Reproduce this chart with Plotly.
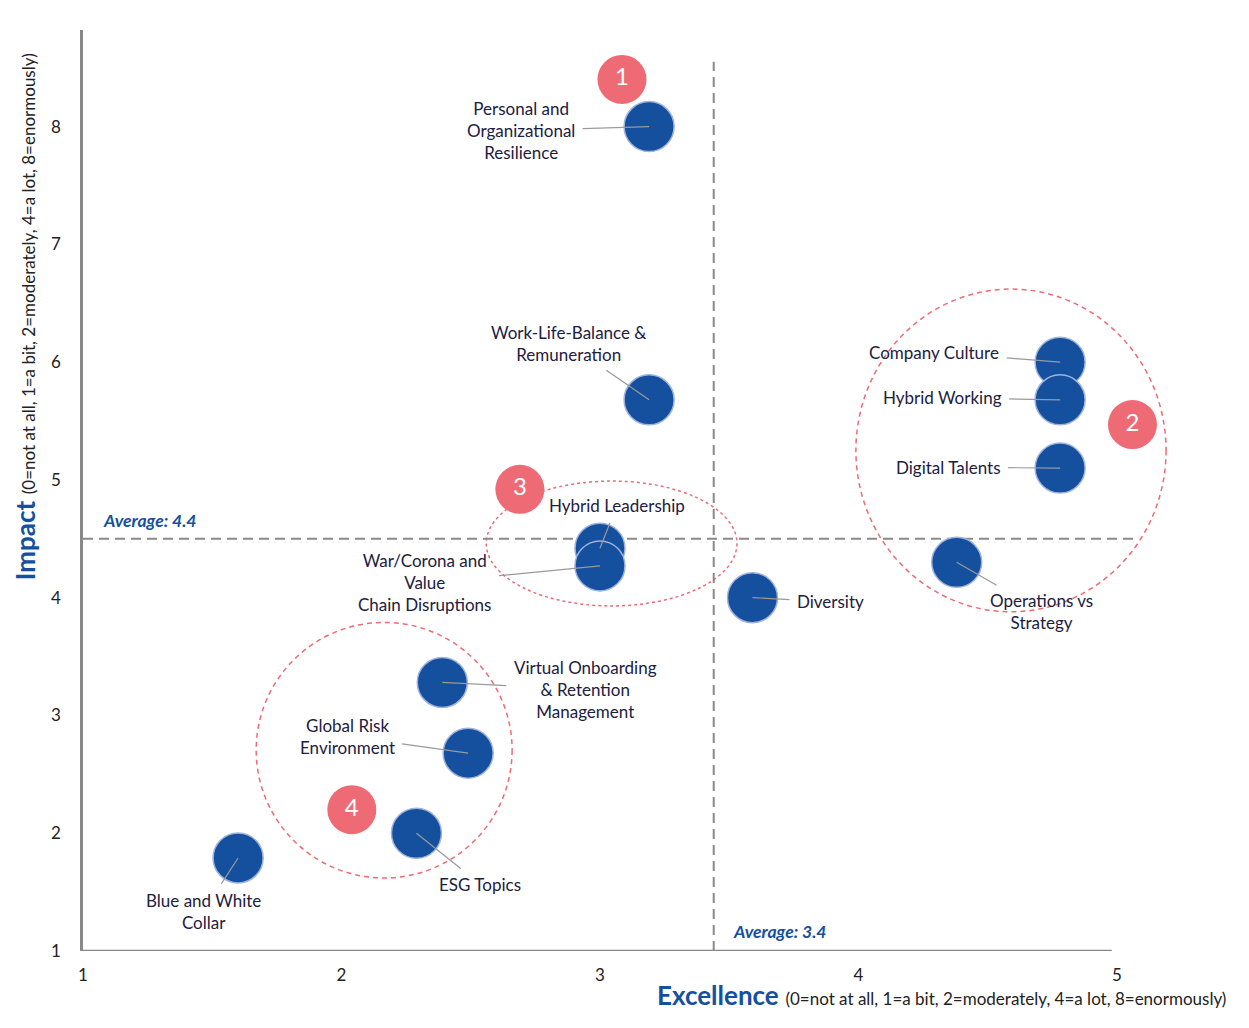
import plotly.graph_objects as go

# ---------------- data ----------------
topics = [
    "Personal and<br>Organizational<br>Resilience",
    "Work-Life-Balance &<br>Remuneration",
    "Hybrid Leadership",
    "War/Corona and<br>Value<br>Chain Disruptions",
    "Diversity",
    "Company Culture",
    "Hybrid Working",
    "Digital Talents",
    "Operations vs<br>Strategy",
    "Virtual Onboarding<br>& Retention<br>Management",
    "Global Risk<br>Environment",
    "ESG Topics",
    "Blue and White<br>Collar",
]
excellence = [3.19, 3.19, 3.0, 3.0, 3.59, 4.78, 4.78, 4.78, 4.38, 2.39, 2.49, 2.29, 1.6]
impact = [8.0, 5.68, 4.42, 4.27, 4.0, 6.0, 5.68, 5.1, 4.3, 3.28, 2.68, 2.0, 1.79]
# label offsets in pixels (layout only)
label_dx = [-128, -81, 17, -175, 78, -126, -118, -112, 85, 143, -121, 64, -35]
label_dy = [4, -56, -43, 17, 4, -10, -2, -1, 49, 7, -17, 51, 54]

group_ids = ["1", "2", "3", "4"]
group_x = [3.085, 5.06, 2.69, 2.04]
group_y = [8.40, 5.47, 4.92, 2.20]
# group ellipses: x0, x1, y0, y1
ell_x0 = [3.99, 2.56, 1.67]
ell_x1 = [5.19, 3.53, 2.66]
ell_y0 = [3.88, 3.93, 1.62]
ell_y1 = [6.62, 4.99, 3.79]
ell_dash = ["5px,4px", "3px,3px", "5px,4px"]

avg_excellence = 3.44
avg_impact = 4.5
avg_exc_label = "Average: 3.4"
avg_imp_label = "Average: 4.4"

x_ticks = [1, 2, 3, 4, 5]
y_ticks = [1, 2, 3, 4, 5, 6, 7, 8]

BLUE = "#15509F"
RED = "#EE6B76"
TXT = "#1c2040"
FONT = "Lato"

fig = go.Figure()

fig.add_trace(go.Scatter(
    x=excellence, y=impact, mode="markers",
    marker=dict(size=50, color=BLUE, line=dict(color="#9fb2de", width=1.5)),
    cliponaxis=False, hoverinfo="skip", showlegend=False,
))

fig.add_trace(go.Scatter(
    x=group_x, y=group_y, mode="markers+text", text=group_ids,
    textposition="middle center",
    textfont=dict(color="white", size=24, family=FONT),
    marker=dict(size=49, color=RED, line=dict(width=0)),
    cliponaxis=False, hoverinfo="skip", showlegend=False,
))

annotations = []
for t, x, y, dx, dy in zip(topics, excellence, impact, label_dx, label_dy):
    annotations.append(dict(
        x=x, y=y, xref="x", yref="y", text=t, showarrow=True,
        ax=dx, ay=dy, arrowhead=0, arrowwidth=1.2, arrowcolor="#9a9a9a",
        standoff=0, startstandoff=6,
        font=dict(size=17, color=TXT, family=FONT), align="center",
    ))

annotations.append(dict(
    x=1, y=avg_impact, xref="x", yref="y", text="<b><i>" + avg_imp_label + "</i></b>",
    showarrow=False, xanchor="left", yanchor="middle", xshift=18, yshift=18,
    font=dict(size=17.5, color=BLUE, family=FONT),
))
annotations.append(dict(
    x=avg_excellence, y=1, xref="x", yref="y", text="<b><i>" + avg_exc_label + "</i></b>",
    showarrow=False, xanchor="left", yanchor="middle", xshift=17, yshift=20,
    font=dict(size=17.5, color=BLUE, family=FONT),
))

sub = "(0=not at all, 1=a bit, 2=moderately, 4=a lot, 8=enormously)"
annotations.append(dict(
    x=1, y=6.38, xref="x", yref="y", textangle=-90,
    text="<b>Impact</b> <span style='font-size:17px;color:#222222'>" + sub + "</span>",
    showarrow=False, xanchor="center", yanchor="middle", xshift=-58,
    font=dict(size=26, color=BLUE, family=FONT),
))
annotations.append(dict(
    x=4.32, y=1, xref="x", yref="y",
    text="<b>Excellence</b> <span style='font-size:17px;color:#222222'>" + sub + "</span>",
    showarrow=False, xanchor="center", yanchor="middle", yshift=-44,
    font=dict(size=26, color=BLUE, family=FONT),
))

shapes = []
for x0, x1, y0, y1, d in zip(ell_x0, ell_x1, ell_y0, ell_y1, ell_dash):
    shapes.append(dict(type="circle", xref="x", yref="y", x0=x0, x1=x1, y0=y0, y1=y1,
                       line=dict(color=RED, width=1.5, dash=d), layer="below"))
# average lines
shapes.append(dict(type="line", xref="x", yref="y", x0=avg_excellence, x1=avg_excellence,
                   y0=1, y1=8.55, line=dict(color="#8a8a8a", width=2, dash="10px,6px"), layer="below"))
shapes.append(dict(type="line", xref="x", yref="y", x0=1, x1=5.08,
                   y0=avg_impact, y1=avg_impact, line=dict(color="#8a8a8a", width=2, dash="10px,6px"), layer="below"))
# x axis line
shapes.append(dict(type="line", xref="x", yref="y", x0=1, x1=4.98, y0=1, y1=1,
                   line=dict(color="#888888", width=2.5), layer="above"))

fig.update_layout(
    width=1233, height=1012,
    margin=dict(l=75, r=47, t=22, b=69),
    plot_bgcolor="white", paper_bgcolor="white",
    showlegend=False,
    annotations=annotations, shapes=shapes,
    font=dict(family=FONT, color=TXT),
    xaxis=dict(range=[1, 5.298], tickvals=x_ticks, ticktext=[str(v) for v in x_ticks],
               showgrid=False, zeroline=False, showline=False, ticks="",
               ticklabelstandoff=12, tickfont=dict(size=17, color="#222222", family=FONT)),
    yaxis=dict(range=[1, 8.82], tickvals=y_ticks, ticktext=[str(v) for v in y_ticks],
               showgrid=False, zeroline=False, showline=True, linecolor="#888888", linewidth=2.5,
               ticks="", ticklabelstandoff=16, tickfont=dict(size=17, color="#222222", family=FONT)),
)

fig.write_html("out.html")
